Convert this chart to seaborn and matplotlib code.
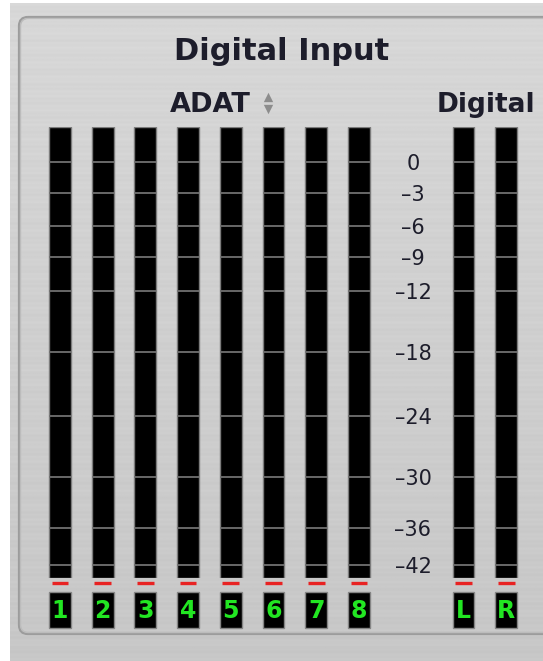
import numpy as np
import matplotlib
matplotlib.use("Agg")
import matplotlib.pyplot as plt
from matplotlib.patches import FancyBboxPatch
import seaborn as sns

# ---- data ----
title = "Digital Input"
adat_title = "ADAT"
digital_title = "Digital"
adat_channels = ["1", "2", "3", "4", "5", "6", "7", "8"]
digital_channels = ["L", "R"]

# meter scale: dB value -> height on the meter (0 = bottom of meter, 1 = top)
scale_db = [-44.1, -42, -36, -30, -24, -18, -12, -9, -6, -3, 0, 3.4]
scale_pos = [0.0, 0.0288, 0.1109, 0.2239, 0.3592, 0.5011, 0.6364, 0.7118, 0.7805, 0.8537, 0.9224, 1.0]
tick_db = [0, -3, -6, -9, -12, -18, -24, -30, -36, -42]

# ---- layout (pixels) ----
W, H = 543, 661
STEP = 42.7          # distance between meters
BAR_W = 0.515        # meter width in category units
METER_TOP, METER_BOTTOM = 127, 578
STRIP_TOP, STRIP_H = 578, 52
LED_Y, BOX_TOP, BOX_H = 5, 14, 36
TEXT_COL = "#1d1d2b"
GREEN = "#22e622"


def to_meter(db):
    return np.interp(db, scale_db, scale_pos)


def from_meter(p):
    return np.interp(p, scale_pos, scale_db)


sns.set_style("white")
plt.rcParams["font.family"] = ["DejaVu Sans"]

fig = plt.figure(figsize=(W / 100, H / 100), dpi=100)
fig.patch.set_facecolor("white")


def px_axes(left, top, width, height):
    return fig.add_axes([left / W, 1 - (top + height) / H, width / W, height / H])


def clean(ax):
    ax.set_facecolor("none")
    for s in ax.spines.values():
        s.set_visible(False)
    ax.set_xticks([])
    ax.set_xlabel("")
    ax.set_ylabel("")


# background panel (brushed metal)
bg = px_axes(0, 0, W, H)
bg.set_xlim(0, W)
bg.set_ylim(H, 0)
bg.axis("off")
rows = np.arange(H)
shade = 0.845 - 0.065 * rows / H + 0.006 * np.sin(rows * 1.3) + 0.005 * np.sin(rows * 0.41 + 2)
bg.imshow(np.repeat(shade[:, None], 4, axis=1), cmap="gray", vmin=0, vmax=1,
          extent=(10, W, H, 3), aspect="auto", interpolation="bilinear")
bg.add_patch(FancyBboxPatch((19, 17), 600, 617, boxstyle="round,pad=0,rounding_size=9",
                            fc="none", ec="#9c9c9c", lw=1.6))
bg.add_patch(FancyBboxPatch((20.5, 18.5), 600, 614, boxstyle="round,pad=0,rounding_size=8",
                            fc="none", ec="#bcbcbc", lw=1.0))

bg.text(282, 60, title, fontsize=22, fontweight="bold", color=TEXT_COL, ha="center", va="baseline")
bg.text(170, 112, adat_title, fontsize=19.5, fontweight="bold", color=TEXT_COL, ha="left", va="baseline")
bg.text(437, 112, digital_title, fontsize=19, fontweight="bold", color=TEXT_COL, ha="left", va="baseline")
bg.scatter([268], [96.5], marker="^", s=45, color="#8c8c8c", linewidths=0)
bg.scatter([268], [108.5], marker="v", s=45, color="#8c8c8c", linewidths=0)


def meter_group(left, channels, with_scale):
    n = len(channels)
    width = n * STEP

    ax = px_axes(left, METER_TOP, width, METER_BOTTOM - METER_TOP)
    sns.barplot(x=channels, y=[scale_db[-1] - scale_db[0]] * n, bottom=scale_db[0],
                width=BAR_W, color="black", edgecolor="#7c7c7c", linewidth=1.0,
                saturation=1, ax=ax)
    for p in ax.patches:
        ax.hlines(tick_db, p.get_x(), p.get_x() + p.get_width(), color="#707070", lw=1.3)
    ax.set_yscale("function", functions=(to_meter, from_meter))
    ax.set_ylim(scale_db[0], scale_db[-1])
    ax.set_xlim(-0.5, n - 0.5)
    clean(ax)
    if with_scale:
        ax.set_yticks(tick_db)
        ax.set_yticklabels([str(v).replace("-", "\u2013") for v in tick_db])
        ax.tick_params(axis="y", length=0, pad=21, labelsize=15, labelcolor=TEXT_COL)
        for lab in ax.get_yticklabels():
            lab.set_ha("center")
    else:
        ax.set_yticks([])

    strip = px_axes(left, STRIP_TOP, width, STRIP_H)
    sns.barplot(x=channels, y=[BOX_H] * n, bottom=BOX_TOP, width=BAR_W, color="black",
                edgecolor="#858585", linewidth=1.0, saturation=1, ax=strip)
    strip.set_ylim(STRIP_H, 0)
    strip.set_xlim(-0.5, n - 0.5)
    clean(strip)
    strip.set_yticks([])
    for p, name in zip(strip.patches, channels):
        x0, w = p.get_x(), p.get_width()
        strip.hlines(LED_Y, x0 + 0.12 * w, x0 + 0.88 * w, color="#e82222", lw=2.4)
        strip.text(x0 + w / 2, BOX_TOP + BOX_H / 2 + 1, name, color=GREEN, fontsize=17,
                   fontweight="bold", ha="center", va="center")


meter_group(60 - STEP / 2, adat_channels, False)
meter_group(463.5 - STEP / 2, digital_channels, True)

fig.savefig("out.png", dpi=100)
